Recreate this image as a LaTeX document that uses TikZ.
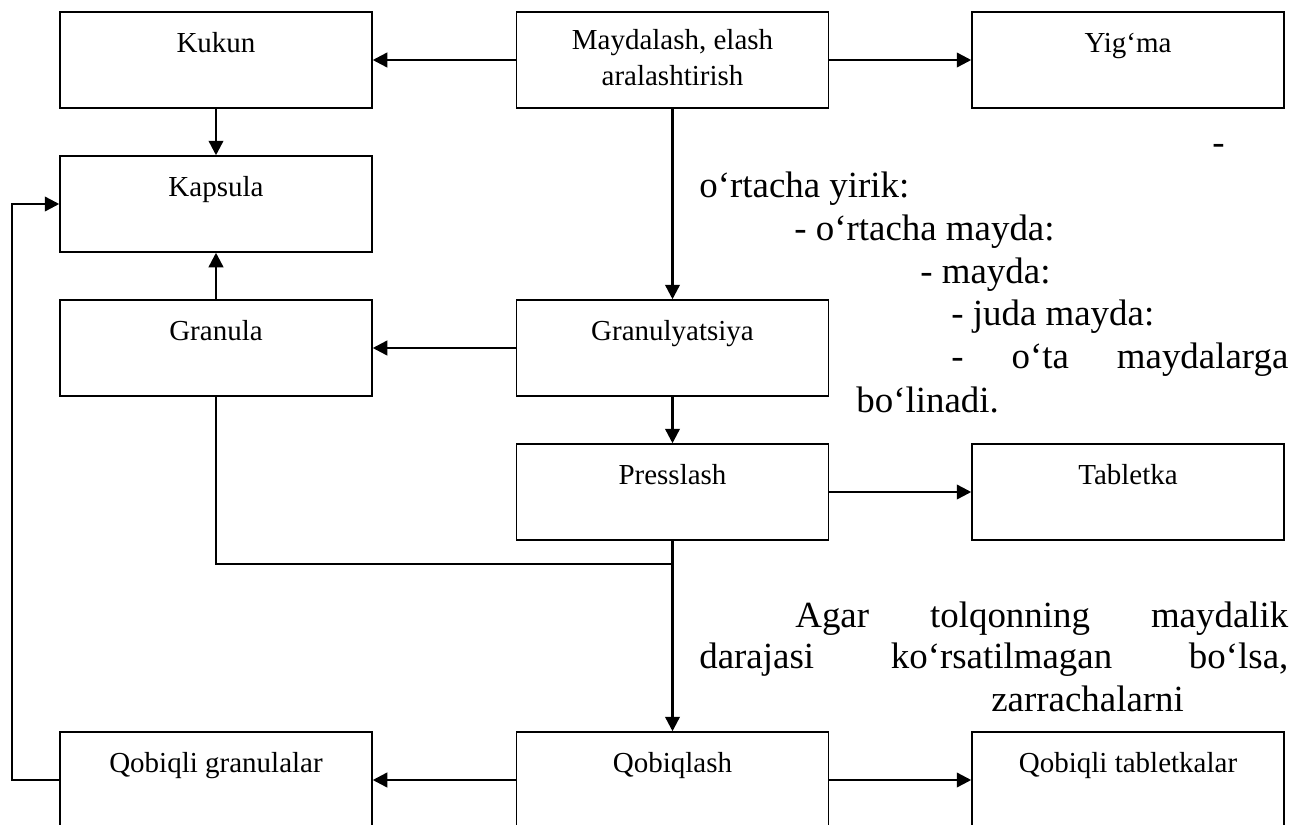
\documentclass[tikz,border=0pt]{standalone}
\usepackage{fontspec}
\setmainfont{Liberation Serif}
\usepackage{tikz}
\usetikzlibrary{positioning,arrows.meta}

\newcommand{\blockfont}{\fontsize{16.5}{20.5}\selectfont}
\newcommand{\sidefont}{\fontsize{21}{24}\selectfont}

\begin{document}
\begin{tikzpicture}[
    x=0.2mm, y=-0.2mm,
    block/.style={
        draw,
        rectangle,
        line width=0.85pt,
        minimum width=62.4mm,
        inner sep=0pt,
        text height=8mm,
        text depth=11.2mm,
        align=center,
        font=\blockfont
    },
    flow/.style={
        -{Triangle[length=2.9mm,width=2.9mm]},
        line width=1.4pt
    },
    link/.style={
        line width=1.4pt
    },
    side/.style={
        anchor=base west,
        inner sep=0pt,
        font=\sidefont
    }
]
    \useasboundingbox (0,0) rectangle (1293,825);

    % Top row
    \node[block] (kukun) at (216,60) {Kukun};
    \node[block, text height=7.4mm, text depth=11.8mm] (mix) at (672.5,60)
        {\begin{tabular}[t]{@{}c@{}}Maydalash, elash\\aralashtirish\end{tabular}};
    \node[block] (yigma) at (1128,60) {Yig‘ma};

    % Capsule and granules
    \node[block] (kapsula) at (216,204) {Kapsula};
    \node[block] (granula) at (216,348) {Granula};
    \node[block] (granul) at (672.5,348) {Granulyatsiya};

    % Pressing
    \node[block] (press) at (672.5,492) {Presslash};
    \node[block] (tablet) at (1128,492) {Tabletka};

    % Coating row
    \node[block] (cgran) at (216,780) {Qobiqli granulalar};
    \node[block] (coat) at (672.5,780) {Qobiqlash};
    \node[block] (ctablet) at (1128,780) {Qobiqli tabletkalar};

    % Side text
    \node[side] (dash) at (1212,154) {-};
    \node[side] (yirik) at (699,197) {o‘rtacha yirik:};
    \node[side] (ortamayda) at (794,240) {- o‘rtacha mayda:};
    \node[side] (mayda) at (920,283) {- mayda:};
    \node[side] (juda) at (951,325) {- juda mayda:};
    \node[side] (ota) at (951,368) {\hbox to 67.4mm{-\hfill o‘ta\hfill maydalarga}};
    \node[side] (bolinadi) at (856,412) {bo‘linadi.};
    \node[side] (agar) at (795,627) {\hbox to 98.6mm{Agar\hfill tolqonning\hfill maydalik}};
    \node[side] (darajasi) at (699,668) {\hbox to 117.8mm{darajasi\hfill ko‘rsatilmagan\hfill bo‘lsa,}};
    \node[side] (zarracha) at (991,711) {zarrachalarni};

    % Connections
    \draw[flow] (mix.west) -- (kukun.east);
    \draw[flow] (mix.east) -- (yigma.west);
    \draw[flow] (mix.south) -- (granul.north);
    \draw[flow] (kukun.south) -- (kapsula.north);
    \draw[flow] (granula.north) -- (kapsula.south);
    \draw[flow] (granul.west) -- (granula.east);
    \draw[flow] (granul.south) -- (press.north);
    \draw[flow] (press.east) -- (tablet.west);
    \draw[flow] (press.south) -- (coat.north);

    % Granules join the line to coating
    \coordinate (merge) at (672.5,564);
    \draw[link] (granula.south) |- (merge);

    \draw[flow] (coat.west) -- (cgran.east);
    \draw[flow] (coat.east) -- (ctablet.west);

    % Coated granules back to capsule
    \coordinate (back) at (12,780);
    \draw[flow] (cgran.west) -- (back) |- (kapsula.west);

\end{tikzpicture}
\end{document}
